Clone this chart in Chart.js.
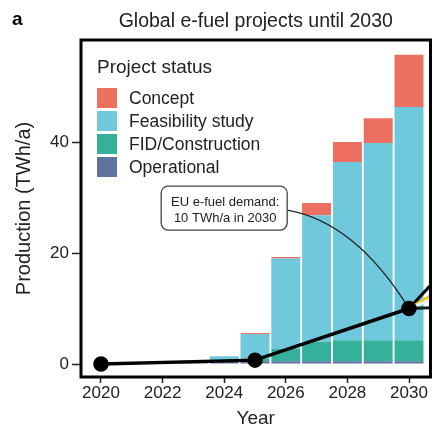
<!DOCTYPE html>
<html>
<head>
<meta charset="utf-8">
<script src="https://cdn.jsdelivr.net/npm/chart.js@4.4.1/dist/chart.umd.min.js"></script>
<style>
  html, body { margin: 0; padding: 0; background: #fff; }
</style>
</head>
<body>
<canvas id="chart" width="433" height="430"></canvas>
<script>
const YEARS = [2020, 2021, 2022, 2023, 2024, 2025, 2026, 2027, 2028, 2029, 2030];
const OPERATIONAL = [0.1, 0.1, 0.15, 0.2, 0.4, 0.5, 0.5, 0.5, 0.5, 0.5, 0.5];
const FID_CONSTRUCTION = [0, 0, 0, 0, 0.1, 0.5, 2.2, 3.5, 3.8, 3.8, 3.8];
const FEASIBILITY = [0, 0, 0, 0.1, 0.9, 4.4, 16.3, 22.8, 32.1, 35.5, 42.0];
const CONCEPT = [0, 0, 0, 0, 0, 0.2, 0.3, 2.2, 3.6, 4.5, 9.4];

// EU demand path and the scenario lines that run past the right edge
const DEMAND_YEARS = [2020, 2025, 2030];
const DEMAND = [0, 0.7, 10];
const OUTLOOK_YEARS = [2030, 2035];
const OUTLOOK_HIGH = [10, 40];
const OUTLOOK_MID = [10, 26];
const OUTLOOK_LOW = [10, 21.5];
const OUTLOOK_FLAT = [10, 11];

const X_TICKS = [2020, 2022, 2024, 2026, 2028, 2030];
const Y_TICKS = [0, 20, 40];

const FONT = "'Liberation Sans', Arial, sans-serif";
const INK = '#222';

const pts = (xs, ys) => xs.map((x, i) => ({ x, y: ys[i] }));

function barSet(label, values, color) {
  return {
    type: 'bar', label, data: pts(YEARS, values), backgroundColor: color,
    borderWidth: 0, stack: 'status', order: 2,
    barPercentage: 0.94, categoryPercentage: 1,
  };
}

function outlook(values, color) {
  return {
    type: 'line', data: pts(OUTLOOK_YEARS, values), borderColor: color,
    borderWidth: 3, pointRadius: 0, order: 1, clip: 0,
  };
}

// legend box, panel letter and the demand callout
const extras = {
  id: 'extras',
  beforeDatasetDraw(chart, args) {
    if (args.index !== 4) return;
    const { x, y } = chart.scales;
    const ctx = chart.ctx;
    const bx = x.getPixelForValue(2024) + 63, by = y.getPixelForValue(28.1) + 2;
    const ex = x.getPixelForValue(2030), ey = y.getPixelForValue(10);
    ctx.save();
    ctx.strokeStyle = '#222';
    ctx.lineWidth = 1.3;
    ctx.beginPath();
    ctx.moveTo(bx, by);
    ctx.quadraticCurveTo(bx + 0.56 * (ex - bx), by + 0.12 * (ey - by), ex, ey);
    ctx.stroke();
    ctx.restore();
  },
  afterDraw(chart) {
    const ctx = chart.ctx;
    const area = chart.chartArea;
    const { x, y } = chart.scales;
    ctx.save();

    // frame
    ctx.strokeStyle = '#000';
    ctx.lineWidth = 3;
    ctx.strokeRect(area.left, area.top, area.right - area.left, area.bottom - area.top);

    // panel letter
    ctx.fillStyle = '#000';
    ctx.font = 'bold 19px ' + FONT;
    ctx.textBaseline = 'alphabetic';
    ctx.textAlign = 'left';
    ctx.fillText('a', 12, 25);

    // legend
    ctx.fillStyle = INK;
    ctx.font = '19px ' + FONT;
    ctx.fillText('Project status', 97, 73);
    const bars = chart.data.datasets.filter(d => d.type === 'bar').slice().reverse();
    ctx.font = '17.5px ' + FONT;
    ctx.textBaseline = 'middle';
    bars.forEach((d, i) => {
      const top = 88 + i * 23;
      ctx.fillStyle = d.backgroundColor;
      ctx.fillRect(97, top, 20, 20);
      ctx.fillStyle = INK;
      ctx.fillText(d.label, 129, top + 11);
    });

    // callout box
    const cx = x.getPixelForValue(2024), cy = y.getPixelForValue(28.1);
    const w = 126, h = 44, l = cx - w / 2, t = cy - h / 2;
    ctx.beginPath();
    ctx.roundRect(l, t, w, h, 7);
    ctx.fillStyle = '#fff';
    ctx.fill();
    ctx.strokeStyle = '#444';
    ctx.lineWidth = 1.3;
    ctx.stroke();
    ctx.fillStyle = INK;
    ctx.font = '13px ' + FONT;
    ctx.textAlign = 'center';
    ctx.fillText('EU e-fuel demand:', cx + 1, t + 16);
    ctx.fillText('10 TWh/a in 2030', cx + 1, t + 32);
    ctx.restore();
  }
};

new Chart(document.getElementById('chart'), {
  data: {
    datasets: [
      barSet('Operational', OPERATIONAL, '#5f72a0'),
      barSet('FID/Construction', FID_CONSTRUCTION, '#35b09a'),
      barSet('Feasibility study', FEASIBILITY, '#70c8dc'),
      barSet('Concept', CONCEPT, '#ec6f5f'),
      {
        type: 'line', label: 'EU e-fuel demand', data: pts(DEMAND_YEARS, DEMAND),
        borderColor: '#000', backgroundColor: '#000', borderWidth: 3.5,
        pointRadius: 6, pointHoverRadius: 6, order: 0,
      },
      outlook(OUTLOOK_FLAT, '#1a1a1a'),
      outlook(OUTLOOK_LOW, '#e4f4fa'),
      outlook(OUTLOOK_MID, '#f2c200'),
      outlook(OUTLOOK_HIGH, '#000'),
    ],
  },
  options: {
    responsive: false,
    animation: false,
    events: [],
    layout: { autoPadding: false, padding: { left: 0, right: 2.5, top: 0, bottom: 0 } },
    plugins: {
      legend: { display: false },
      tooltip: { enabled: false },
      title: {
        display: true, fullSize: false,
        text: 'Global e-fuel projects until 2030',
        color: INK, font: { family: FONT, size: 19.5, weight: 'normal' },
        padding: { top: 10.3, bottom: 6.3 },
      },
    },
    scales: {
      x: {
        type: 'linear', min: 2019.351, max: 2030.698, offset: false,
        afterFit: s => { s.height = 53; s.paddingLeft = 0; s.paddingRight = 0; },
        afterBuildTicks: s => { s.ticks = X_TICKS.map(v => ({ value: v })); },
        grid: { offset: false, drawOnChartArea: false, tickLength: 6, tickWidth: 1.5, tickColor: '#222' },
        border: { display: false },
        ticks: { color: INK, padding: 0, font: { family: FONT, size: 17 }, callback: v => String(v) },
        title: { display: true, text: 'Year', color: INK, font: { family: FONT, size: 19 }, padding: { top: 0, bottom: 0 } },
      },
      y: {
        type: 'linear', min: -2.34, max: 58.38,
        afterFit: s => { s.width = 81; s.paddingTop = 0; s.paddingBottom = 0; },
        afterBuildTicks: s => { s.ticks = Y_TICKS.map(v => ({ value: v })); },
        grid: { drawOnChartArea: false, tickLength: 9, tickWidth: 1.5, tickColor: '#222' },
        border: { display: false },
        ticks: { color: INK, padding: 3, font: { family: FONT, size: 17 }, callback: v => String(v) },
        title: { display: true, text: 'Production (TWh/a)', color: INK, font: { family: FONT, size: 20 }, padding: { top: 12, bottom: 0 } },
      },
    },
  },
  plugins: [extras],
});
</script>
</body>
</html>
